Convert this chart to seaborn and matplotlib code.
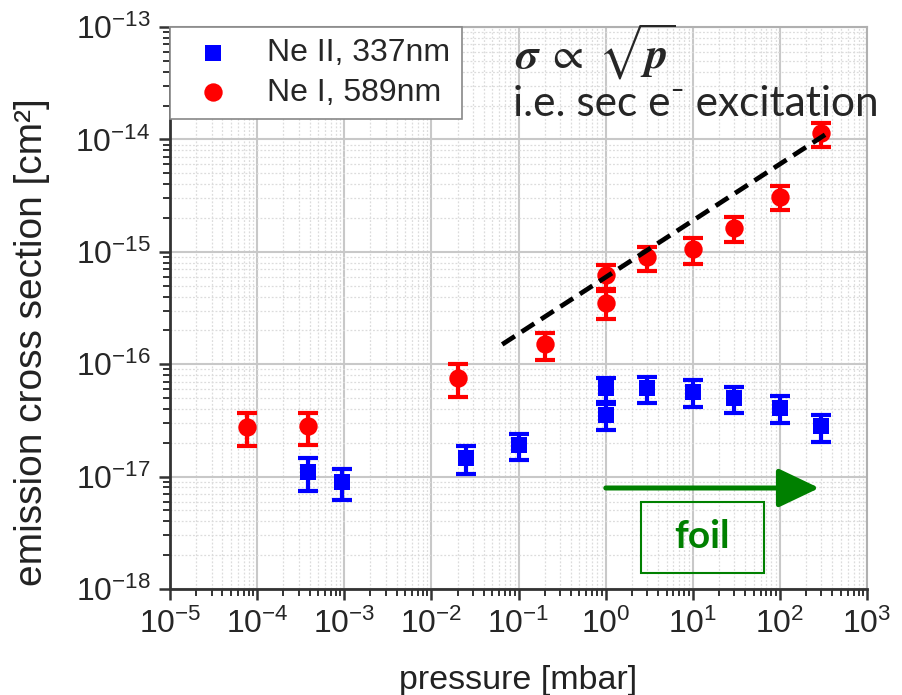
import numpy as np
import pandas as pd
import seaborn as sns
import matplotlib
matplotlib.use('Agg')
from matplotlib import pyplot as plt
from matplotlib.patches import Rectangle, FancyArrowPatch
from matplotlib.ticker import LogLocator, NullFormatter, FixedLocator

# Ne II, 337nm (blue squares)
ne2_pressure = [3.8e-4, 9.5e-4, 0.025, 0.1, 1.0, 1.0, 3.0, 10.0, 30.0, 100.0, 300.0]
ne2_sigma = [1.1e-17, 9.0e-18, 1.46e-17, 1.9e-17, 6.1e-17, 3.5e-17, 6.1e-17, 5.7e-17, 5.0e-17, 4.1e-17, 2.8e-17]
ne2_err = [3.5e-18, 2.8e-18, 4.0e-18, 5.0e-18, 1.5e-17, 9.0e-18, 1.6e-17, 1.5e-17, 1.3e-17, 1.1e-17, 7.5e-18]

# Ne I, 589nm (red circles)
ne1_pressure = [7.6e-5, 3.8e-4, 0.02, 0.2, 1.0, 1.0, 3.0, 10.0, 30.0, 100.0, 300.0]
ne1_sigma = [2.78e-17, 2.8e-17, 7.6e-17, 1.5e-16, 6.2e-16, 3.5e-16, 8.9e-16, 1.06e-15, 1.62e-15, 3.09e-15, 1.13e-14]
ne1_err = [9.0e-18, 9.0e-18, 2.5e-17, 4.0e-17, 1.5e-16, 9.5e-17, 2.2e-16, 2.8e-16, 4.0e-16, 7.5e-16, 2.7e-15]

# sqrt(p) guide line end points
fit_x = [0.065, 330.0]
fit_y = [1.5e-16, 1.1e-14]

x_ticks = [1e-5, 1e-4, 1e-3, 1e-2, 1e-1, 1e0, 1e1, 1e2, 1e3]
y_ticks = [1e-18, 1e-17, 1e-16, 1e-15, 1e-14, 1e-13]

ne2 = pd.DataFrame({'p': ne2_pressure, 'sigma': ne2_sigma, 'err': ne2_err})
ne1 = pd.DataFrame({'p': ne1_pressure, 'sigma': ne1_sigma, 'err': ne1_err})

sns.set_style('white')
plt.rcParams['font.family'] = ['Liberation Sans', 'DejaVu Sans']
plt.rcParams['mathtext.fontset'] = 'custom'
plt.rcParams['mathtext.rm'] = 'Liberation Sans'

fig = plt.figure(figsize=(9.02, 6.95), dpi=100)
ax = fig.add_axes([170 / 902, 1 - 589 / 695, 697 / 902, 562 / 695])
ax.set_xscale('log')
ax.set_yscale('log')
ax.set_xlim(1e-5, 1e3)
ax.set_ylim(1e-18, 1e-13)

ax.errorbar(ne2['p'], ne2['sigma'], yerr=ne2['err'], fmt='none', ecolor='#0000ff',
            elinewidth=3, capsize=7, capthick=3, zorder=3)
ax.errorbar(ne1['p'], ne1['sigma'], yerr=ne1['err'], fmt='none', ecolor='#ff0000',
            elinewidth=3, capsize=7, capthick=3, zorder=3)
sns.scatterplot(data=ne2, x='p', y='sigma', ax=ax, marker='s', s=140, color='#0000ff',
                linewidth=0, label='Ne II, 337nm', zorder=4)
sns.scatterplot(data=ne1, x='p', y='sigma', ax=ax, marker='o', s=175, color='#ff0000',
                linewidth=0, label='Ne I, 589nm', zorder=4)
ax.plot(fit_x, fit_y, color='black', lw=3.4, dashes=(3.2, 1.7), zorder=5)

# grid and ticks
ax.xaxis.set_major_locator(FixedLocator(x_ticks))
ax.yaxis.set_major_locator(FixedLocator(y_ticks))
for axis in (ax.xaxis, ax.yaxis):
    axis.set_minor_locator(LogLocator(base=10, subs=np.arange(2, 10), numticks=200))
    axis.set_minor_formatter(NullFormatter())
ax.grid(which='major', color='#c8c8c8', lw=1.5, zorder=0)
ax.grid(which='minor', color='#dcdcdc', lw=0.9, ls=(0, (1.5, 1.5)), zorder=0)
ax.set_axisbelow(True)
ax.tick_params(which='major', direction='out', length=8, width=1.8, color='#333333',
               labelsize=23, pad=6, left=True, bottom=True)
ax.tick_params(which='minor', direction='out', length=5, width=1.4, color='#333333',
               left=True, bottom=True)
for side in ('left', 'bottom'):
    ax.spines[side].set_color('#333333')
    ax.spines[side].set_linewidth(2)
for side in ('top', 'right'):
    ax.spines[side].set_color('#b0b0b0')
    ax.spines[side].set_linewidth(1.5)

ax.set_xlabel('pressure [mbar]', fontsize=24.5, labelpad=18, color='#222222')
ax.set_ylabel('emission cross section [cm²]', fontsize=28, color='#222222')
ax.yaxis.set_label_coords(-0.172, 0.44)

leg = ax.legend(loc='upper left', bbox_to_anchor=(0, 1), borderaxespad=0, fontsize=23,
                frameon=True, fancybox=False, framealpha=1, edgecolor='#888888',
                handletextpad=0.7, borderpad=0.35, labelspacing=0.3, markerscale=1.0)
leg.get_frame().set_linewidth(1.2)

# annotations
fig.text(515 / 902, 1 - 52 / 695, r'$\boldsymbol{\sigma}\;\propto\;\sqrt{\boldsymbol{p}}$',
         fontsize=32, va='center', ha='left', math_fontfamily='stix')
fig.text(513 / 902, 1 - 104 / 695, 'i.e. sec e\u207b excitation', fontsize=30.5,
         family=['Lato', 'DejaVu Sans'], va='center', ha='left')

fig.patches.append(FancyArrowPatch((603 / 902, 1 - 488 / 695), (822 / 902, 1 - 488 / 695),
                                   transform=fig.transFigure, figure=fig,
                                   arrowstyle='-|>,head_length=0.42,head_width=0.2',
                                   mutation_scale=60, color='#008000', lw=3.6))
fig.patches.append(Rectangle((641 / 902, 1 - 573 / 695), 123 / 902, 71 / 695,
                             transform=fig.transFigure, figure=fig, fill=False,
                             edgecolor='#008000', lw=1.5))
fig.text(702 / 902, 1 - 537 / 695, 'foil', fontsize=28, weight='bold', color='#008000',
         family=['Lato', 'DejaVu Sans'], ha='center', va='center')

plt.savefig('out.png', dpi=100)
